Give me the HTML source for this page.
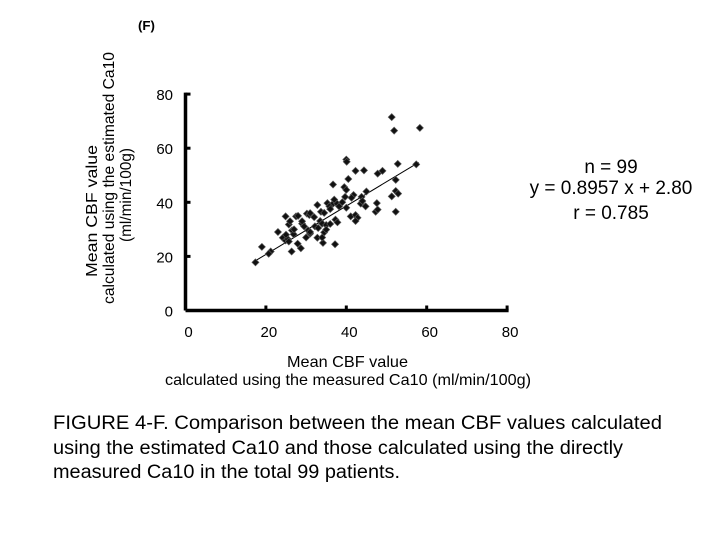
<!DOCTYPE html>
<html><head><meta charset="utf-8"><style>
body{margin:0;background:#fff;}
svg{display:block;font-family:"Liberation Sans",sans-serif;}
</style></head><body>
<svg width="720" height="540">
<text x="138" y="30" font-size="13" font-weight="bold" textLength="17" lengthAdjust="spacingAndGlyphs">(F)</text>
<g transform="translate(0,310) rotate(-90)" font-size="16">
<text x="33" y="97" textLength="132" lengthAdjust="spacingAndGlyphs">Mean CBF value</text>
<text x="6" y="114" textLength="252" lengthAdjust="spacingAndGlyphs">calculated using the estimated Ca10</text>
<text x="68" y="131" textLength="94" lengthAdjust="spacingAndGlyphs">(ml/min/100g)</text>
</g>
<g id="axes"></g>
<g id="pts"></g>
<g font-size="19" text-anchor="middle">
<text x="611" y="173">n = 99</text>
<text x="611" y="194">y = 0.8957 x + 2.80</text>
<text x="611" y="219">r = 0.785</text>
</g>
<g font-size="16">
<text x="287" y="367" textLength="121" lengthAdjust="spacingAndGlyphs">Mean CBF value</text>
<text x="165" y="385" textLength="366" lengthAdjust="spacingAndGlyphs">calculated using the  measured Ca10 (ml/min/100g)</text>
</g>
<g font-size="19">
<text x="53" y="429" textLength="609" lengthAdjust="spacingAndGlyphs">FIGURE  4-F. Comparison between the mean CBF values calculated</text>
<text x="53" y="454" textLength="570" lengthAdjust="spacingAndGlyphs">using the estimated Ca10 and those calculated using the directly</text>
<text x="53" y="478" textLength="347" lengthAdjust="spacingAndGlyphs">measured Ca10 in the total 99 patients.</text>
</g>
</svg>
<script>
const xTicks=[0,20,40,60,80];
const yTicks=[0,20,40,60,80];
const slope=0.8957, intercept=2.80, lineMin=17, lineMax=58;
const xs=[51.3,51.9,58.3,40.0,40.1,42.3,44.4,47.8,49.0,52.8,57.4,40.5,52.3,36.7,39.5,40.0,52.3,52.9,51.3,41.8,41.3,43.8,39.7,32.8,35.3,36.5,37.7,38.2,35.8,43.6,44.8,47.6,47.3,47.8,52.3,24.9,27.5,30.2,30.8,33.7,34.5,41.1,42.3,42.8,42.3,37.3,37.8,25.7,29.0,29.5,33.5,34.0,35.0,32.2,26.5,26.9,30.5,31.0,34.5,35.0,24.2,24.9,25.4,25.7,32.8,27.9,28.7,34.2,37.2,19.0,21.2,20.7,26.4,17.4,31,32,36,29,27,30,39,44,25,28,33,37,40,23,26,34,45,36,31];
const ys=[71.5,66.5,67.5,55.8,55.0,51.6,51.8,50.6,51.6,54.2,54.0,48.6,48.3,46.6,45.6,44.6,44.2,43.2,42.2,42.7,41.7,42.0,42.0,39.0,39.7,39.2,39.5,38.5,38.5,39.5,38.5,39.7,36.5,37.3,36.5,34.8,34.8,35.8,35.3,36.5,36.1,34.8,35.3,34.3,33.1,33.6,32.6,31.8,32.1,31.1,33.1,32.1,31.6,31.1,29.6,28.2,29.6,28.4,28.9,29.9,26.9,25.9,26.5,25.5,26.9,24.7,23.0,25.0,24.5,23.5,21.8,21.0,21.8,17.8,36,34.5,37.5,33,30,27,40,40.5,28,35,30.5,41,38,29,33,27,44,32,29];
const X=v=>185.5+v*4.02, Y=v=>310.5-v*2.705;
const NS='http://www.w3.org/2000/svg';
const ax=document.getElementById('axes'), pg=document.getElementById('pts');
function mk(tag,attrs,parent){const e=document.createElementNS(NS,tag);for(const k in attrs)e.setAttribute(k,attrs[k]);parent.appendChild(e);return e;}
let e=mk('line',{x1:X(0),y1:Y(0),x2:X(80)+1.5,y2:Y(0),stroke:'#000','stroke-width':3.5},ax);


e=mk('line',{x1:X(0),y1:Y(80)-1.5,x2:X(0),y2:Y(0),stroke:'#000','stroke-width':3.5},ax);


xTicks.forEach(t=>{
 mk('line',{x1:X(t),y1:Y(0),x2:X(t),y2:Y(0)-5,stroke:'#000','stroke-width':3},ax);
 const tx=mk('text',{x:X(t)+3,y:337,'font-size':15,'text-anchor':'middle'},ax);tx.textContent=t;
 
 
});
yTicks.forEach(t=>{
 mk('line',{x1:X(0),y1:Y(t),x2:X(0)+5,y2:Y(t),stroke:'#000','stroke-width':3},ax);
 const tx=mk('text',{x:173,y:Y(t)+6,'font-size':15,'text-anchor':'end'},ax);tx.textContent=t;
 
 
});
e=mk('line',{x1:X(lineMin),y1:Y(slope*lineMin+intercept),x2:X(lineMax),y2:Y(slope*lineMax+intercept),stroke:'#000','stroke-width':1},pg);


xs.forEach((v,i)=>{
 const cx=X(v),cy=Y(ys[i]);
 const p=mk('polygon',{points:`${cx},${cy-3.5} ${cx+3.5},${cy} ${cx},${cy+3.5} ${cx-3.5},${cy}`,fill:'#111',stroke:'#555','stroke-width':0.7},pg);
 
 
});
</script>
</body></html>
